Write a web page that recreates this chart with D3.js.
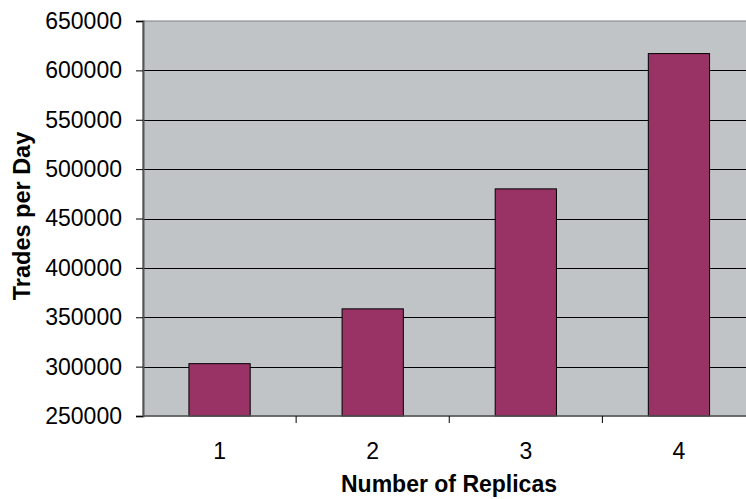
<!DOCTYPE html>
<html><head><meta charset="utf-8">
<script src="https://cdn.jsdelivr.net/npm/d3@7"></script>
<style>body{margin:0;background:#fff;overflow:hidden}svg{display:block;font-family:"Liberation Sans",Arial,sans-serif}</style>
</head><body>
<svg id="c" width="746" height="499"></svg>
<script>
const categories = ["1","2","3","4"];
const values = [303000, 358500, 480000, 617000];
const yTicks = [250000,300000,350000,400000,450000,500000,550000,600000,650000];

const svg = d3.select("#c");
const L = 143, R = 755.5, T = 21, B = 416;
const x = d3.scaleBand().domain(categories).range([L, R]).paddingInner(0.6).paddingOuter(0.3);
const y = d3.scaleLinear().domain([250000, 650000]).range([B, T]);

svg.append("rect").attr("x", L).attr("y", T).attr("width", R - L).attr("height", B - T)
  .attr("fill", "#c0c4c7").attr("stroke", "#808080").attr("stroke-width", 1);

svg.append("g").selectAll("line").data(yTicks.slice(1, -1)).join("line")
  .attr("x1", L).attr("x2", R).attr("y1", d => Math.round(y(d)) + 0.5).attr("y2", d => Math.round(y(d)) + 0.5)
  .attr("stroke", "#000").attr("stroke-width", 1);

svg.append("g").selectAll("rect").data(values).join("rect")
  .attr("x", (d, i) => x(categories[i])).attr("width", x.bandwidth())
  .attr("y", d => y(d)).attr("height", d => B - y(d))
  .attr("fill", "#993366").attr("stroke", "#000").attr("stroke-width", 1);

// y axis
const ya = svg.append("g").attr("transform", `translate(${L},0)`)
  .call(d3.axisLeft(y).tickValues(yTicks).tickFormat(d3.format("d")).tickSize(7).tickPadding(14));
ya.select(".domain").attr("stroke", "#555").attr("stroke-width", 2);
ya.selectAll(".tick line").attr("stroke", "#000");
ya.selectAll("text").attr("font-size", 23).attr("fill", "#000").attr("font-family", "Liberation Sans, Arial, sans-serif");

// x axis
const bounds = categories.slice(1).map(c => x(c) - x.step() * x.paddingInner() / 2);
const xg = svg.append("g");
xg.append("line").attr("x1", L).attr("x2", R).attr("y1", B).attr("y2", B).attr("stroke", "#555").attr("stroke-width", 1.5);
xg.selectAll("line.t").data(bounds).join("line").attr("class", "t")
  .attr("x1", d => d).attr("x2", d => d).attr("y1", B).attr("y2", B + 7).attr("stroke", "#000");
xg.selectAll("text").data(categories).join("text")
  .attr("x", d => x(d) + x.bandwidth() / 2).attr("y", 459).attr("text-anchor", "middle")
  .attr("font-size", 23).attr("fill", "#000").text(d => d);

svg.append("text").attr("x", 449).attr("y", 492).attr("text-anchor", "middle")
  .attr("font-size", 23).attr("font-weight", "bold").text("Number of Replicas");
svg.append("text").attr("transform", "translate(29.5,216) rotate(-90)").attr("text-anchor", "middle")
  .attr("font-size", 23.5).attr("font-weight", "bold").text("Trades per Day");
</script>
</body></html>
